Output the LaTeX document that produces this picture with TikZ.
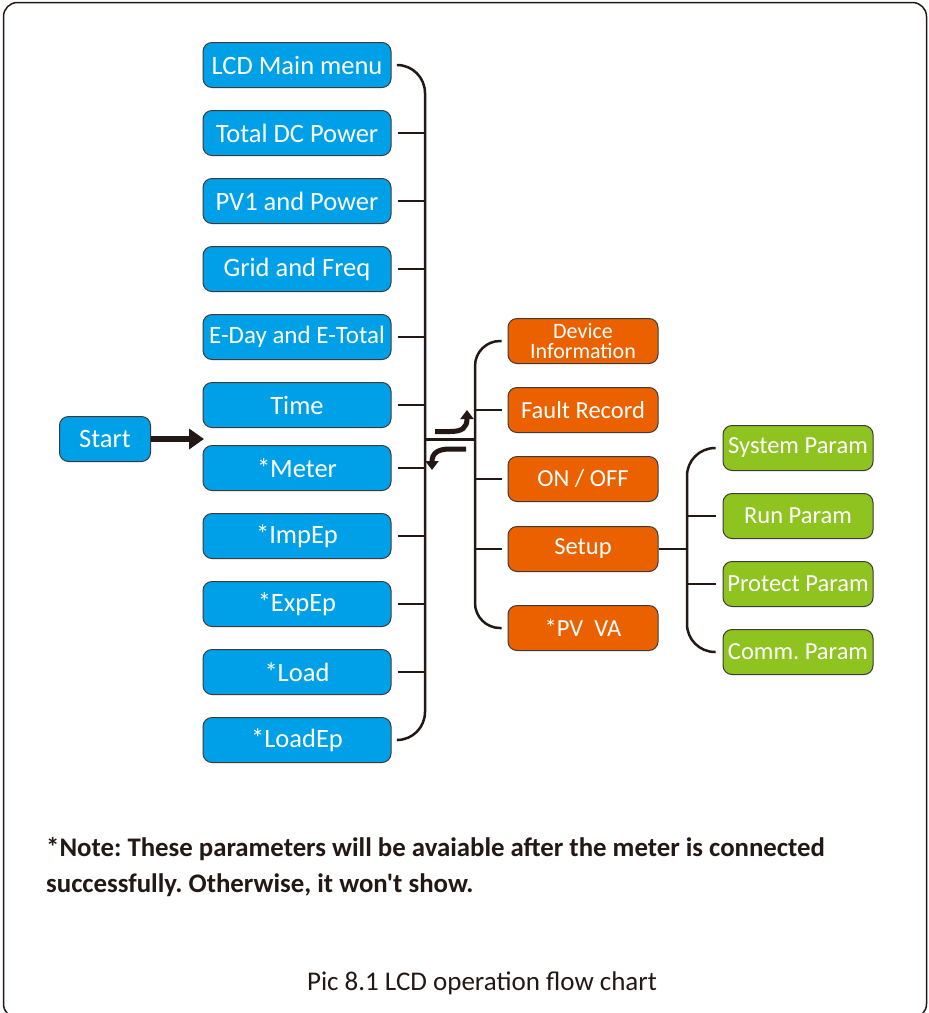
\documentclass[tikz,border=0pt]{standalone}
\usepackage{fontspec}
\setmainfont{Carlito}
\newfontfamily\notefont{Carlito}
\usetikzlibrary{arrows.meta}
\definecolor{cblue}{HTML}{00A0E9}
\definecolor{corange}{HTML}{EB6100}
\definecolor{cgreen}{HTML}{8FC31F}
\definecolor{cline}{HTML}{231815}
\definecolor{cbord}{HTML}{3E3A39}
\tikzset{
  box/.style={draw=cbord, line width=1pt, rounded corners=9pt, inner sep=0pt,
    minimum height=45pt, text=white, align=center},
  bluebox/.style={box, fill=cblue, minimum width=188pt, font=\fontsize{26.5}{28}\selectfont},
  orbox/.style={box, fill=corange, minimum width=150pt, font=\fontsize{24.5}{20}\selectfont},
  grbox/.style={box, fill=cgreen, minimum width=150pt, font=\fontsize{24.5}{26}\selectfont},
  br/.style={draw=cline, line width=2.5pt},
  fat/.style={draw=cline, line width=5pt},
}
\begin{document}
\frenchspacing
\begin{tikzpicture}[x=1pt,y=-1pt]
\clip (0,0) rectangle (929,1013);
\fill[white] (0,0) rectangle (929,1013);
\draw[cline, line width=1.5pt, rounded corners=14pt] (3.5,2.5) rectangle (926.5,1018);

% blue column
\node[bluebox] (m1) at (297,65) {LCD Main menu};
\node[bluebox] (m2) at (297,133) {Total DC Power};
\node[bluebox] (m3) at (297,201) {PV1 and Power};
\node[bluebox] (m4) at (297,269) {Grid and Freq};
\node[bluebox, font=\fontsize{25}{28}\selectfont] (m5) at (297,337) {E-Day and E-Total};
\node[bluebox] (m6) at (297,405) {Time};
\node[bluebox] (m7) at (297,468) {*Meter};
\node[bluebox] (m8) at (297,536) {*ImpEp};
\node[bluebox] (m9) at (297,604) {*ExpEp};
\node[bluebox] (m10) at (297,672) {*Load};
\node[bluebox] (m11) at (297,740) {*LoadEp};

\node[bluebox, minimum width=91pt] (start) at (105,439) {Start};
\coordinate (ent) at (204,439);
\draw[fat, line width=5.5pt, -{Triangle[width=20pt,length=15pt]}] (start.east) -- (ent);

% orange column
\node[orbox, font=\fontsize{22}{20.5}\selectfont] (o1) at (583,341) {Device\\Information};
\node[orbox] (o2) at (583,410) {Fault Record};
\node[orbox] (o3) at (583,479) {ON / OFF};
\node[orbox] (o4) at (583,549) {Setup};
\node[orbox] (o5) at (583,628) {*PV\ \ VA};

% green column
\node[grbox] (g1) at (798,448) {System Param};
\node[grbox] (g2) at (798,516) {Run Param};
\node[grbox] (g3) at (798,584) {Protect Param};
\node[grbox] (g4) at (798,652) {Comm. Param};

% bracket 1
\coordinate (bx) at (425,0);
\draw[br, rounded corners=28pt] ([xshift=6pt]m1.east) -| (bx |- m6.east) |- ([xshift=6pt]m11.east);
\foreach \i in {2,...,10} {\draw[br] ([xshift=6pt]m\i.east) -- (bx |- m\i.east);}

% junction
\coordinate (jl) at (425,439.5);
\coordinate (jr) at (475,439.5);
\draw[br] (jl) -- (jr);

% bracket 2
\coordinate (ox) at (475,0);
\draw[br, rounded corners=25pt] ([xshift=-6pt]o1.west) -| (ox |- o3.west) |- ([xshift=-6pt]o5.west);
\foreach \i in {2,3,4} {\draw[br] ([xshift=-6pt]o\i.west) -- (ox |- o\i.west);}

% bracket 3
\coordinate (gx) at (687,0);
\draw[br, rounded corners=28pt] ([xshift=-7pt]g1.west) -| (gx |- g2.west) |- ([xshift=-7pt]g4.west);
\foreach \i in {2,3} {\draw[br] ([xshift=-7pt]g\i.west) -- (gx |- g\i.west);}
\draw[br] (o4.east) -- (gx |- o4.east);

% curved arrows
\coordinate (a1s) at (435,431.5);
\coordinate (a1e) at (467,410);
\draw[fat, -{Triangle[width=13pt,length=9pt]}] (a1s) -- (450,431.5) .. controls (462,431.5) and (467,428) .. (a1e);
\coordinate (a2s) at (466,449);
\coordinate (a2e) at (432,470);
\draw[fat, -{Triangle[width=13pt,length=9pt]}] (a2s) -- (450,449) .. controls (438,449) and (432,453) .. (a2e);

% note
\node[anchor=base west, inner sep=0pt, text=cline, font=\notefont\bfseries\fontsize{26.8}{28}\selectfont] (n1) at (46,856) {*Note: These parameters will be avaiable after the meter is connected};
\node[anchor=base west, inner sep=0pt, text=cline, font=\notefont\bfseries\fontsize{26.8}{28}\selectfont] (n2) at (46,892) {successfully. Otherwise, it won't show.};

% caption
\node[anchor=base, inner sep=0pt, text=cline, font=\fontsize{27}{28}\selectfont] (cap) at (482,990) {Pic 8.1 LCD operation flow chart};
\end{tikzpicture}
\end{document}
